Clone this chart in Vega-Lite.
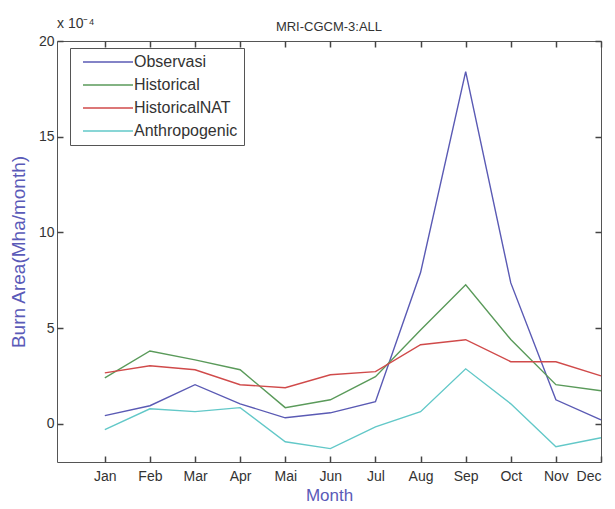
{
  "$schema": "https://vega.github.io/schema/vega-lite/v6.json",
  "width": 544,
  "height": 421,
  "autosize": {"type": "none"},
  "padding": {"left": 57, "top": 41, "right": 14, "bottom": 47},
  "background": "white",
  "config": {
    "font": "Liberation Sans",
    "view": {"stroke": "#555", "strokeWidth": 1},
    "axis": {"domain": false, "grid": false, "labelColor": "#333", "labelFontSize": 14}
  },
  "title": {"text": "MRI-CGCM-3:ALL", "fontSize": 13, "fontWeight": "normal", "color": "#333", "offset": 0, "dy": 17, "anchor": "middle"},
  "data": {"values": [
    {"month": 1, "series": "Observasi", "value": 0.42},
    {"month": 2, "series": "Observasi", "value": 0.94},
    {"month": 3, "series": "Observasi", "value": 2.04},
    {"month": 4, "series": "Observasi", "value": 1.04},
    {"month": 5, "series": "Observasi", "value": 0.31},
    {"month": 6, "series": "Observasi", "value": 0.57},
    {"month": 7, "series": "Observasi", "value": 1.15},
    {"month": 8, "series": "Observasi", "value": 7.9},
    {"month": 9, "series": "Observasi", "value": 18.4},
    {"month": 10, "series": "Observasi", "value": 7.36},
    {"month": 11, "series": "Observasi", "value": 1.25},
    {"month": 12, "series": "Observasi", "value": 0.2},
    {"month": 1, "series": "Historical", "value": 2.4},
    {"month": 2, "series": "Historical", "value": 3.8},
    {"month": 3, "series": "Historical", "value": 3.34},
    {"month": 4, "series": "Historical", "value": 2.82},
    {"month": 5, "series": "Historical", "value": 0.84},
    {"month": 6, "series": "Historical", "value": 1.25},
    {"month": 7, "series": "Historical", "value": 2.46},
    {"month": 8, "series": "Historical", "value": 4.9},
    {"month": 9, "series": "Historical", "value": 7.26},
    {"month": 10, "series": "Historical", "value": 4.4},
    {"month": 11, "series": "Historical", "value": 2.04},
    {"month": 12, "series": "Historical", "value": 1.72},
    {"month": 1, "series": "HistoricalNAT", "value": 2.66},
    {"month": 2, "series": "HistoricalNAT", "value": 3.03},
    {"month": 3, "series": "HistoricalNAT", "value": 2.82},
    {"month": 4, "series": "HistoricalNAT", "value": 2.04},
    {"month": 5, "series": "HistoricalNAT", "value": 1.88},
    {"month": 6, "series": "HistoricalNAT", "value": 2.56},
    {"month": 7, "series": "HistoricalNAT", "value": 2.72},
    {"month": 8, "series": "HistoricalNAT", "value": 4.13},
    {"month": 9, "series": "HistoricalNAT", "value": 4.39},
    {"month": 10, "series": "HistoricalNAT", "value": 3.24},
    {"month": 11, "series": "HistoricalNAT", "value": 3.24},
    {"month": 12, "series": "HistoricalNAT", "value": 2.5},
    {"month": 1, "series": "Anthropogenic", "value": -0.31},
    {"month": 2, "series": "Anthropogenic", "value": 0.78},
    {"month": 3, "series": "Anthropogenic", "value": 0.63},
    {"month": 4, "series": "Anthropogenic", "value": 0.84},
    {"month": 5, "series": "Anthropogenic", "value": -0.94},
    {"month": 6, "series": "Anthropogenic", "value": -1.3},
    {"month": 7, "series": "Anthropogenic", "value": -0.16},
    {"month": 8, "series": "Anthropogenic", "value": 0.63},
    {"month": 9, "series": "Anthropogenic", "value": 2.87},
    {"month": 10, "series": "Anthropogenic", "value": 1.04},
    {"month": 11, "series": "Anthropogenic", "value": -1.2},
    {"month": 12, "series": "Anthropogenic", "value": -0.73}
  ]},
  "layer": [
    {
      "mark": {"type": "line", "strokeWidth": 1.4},
      "encoding": {
        "x": {"field": "month", "type": "quantitative",
          "scale": {"domain": [-0.06, 12], "nice": false, "zero": false},
          "axis": {"orient": "bottom", "values": [1,2,3,4,5,6,7,8,9,10,11,12], "labelPadding": 7,
            "ticks": true, "tickSize": 6, "tickWidth": 1.5, "tickColor": "#444", "tickOpacity": 1, "offset": -6,
            "labelExpr": "['Jan','Feb','Mar','Apr','Mai','Jun','Jul','Aug','Sep','Oct','Nov','Dec'][datum.value-1]",
            "title": "Month", "titleColor": "#5a5ab8", "titleFontSize": 17, "titleFontWeight": "normal", "titlePadding": 4}},
        "y": {"field": "value", "type": "quantitative",
          "scale": {"domain": [-2, 20], "nice": false, "zero": false},
          "axis": {"orient": "left", "values": [0, 5, 10, 15, 20], "labelPadding": 3,
            "ticks": true, "tickSize": 6, "tickWidth": 1.5, "tickColor": "#444", "tickOpacity": 1, "offset": -6,
            "title": "Burn Area(Mha/month)", "titleColor": "#5a5ab8", "titleFontSize": 19, "titleFontWeight": "normal", "titlePadding": 10}},
        "color": {"field": "series", "type": "nominal",
          "scale": {"domain": ["Observasi", "Historical", "HistoricalNAT", "Anthropogenic"],
                    "range": ["#5a5ab4", "#5a9a5a", "#d04a4a", "#62c8c8"]},
          "legend": {"title": null, "orient": "none", "legendX": 13, "legendY": 7,
            "symbolType": "M-5,0H5", "symbolSize": 100, "symbolStrokeWidth": 1.4, "symbolOffset": 24,
            "labelFontSize": 16, "labelColor": "#333", "labelOffset": 18,
            "strokeColor": "#555", "fillColor": "white", "padding": 6, "rowPadding": 7}}
      }
    },
    {
      "mark": {"type": "text", "align": "left", "baseline": "middle", "dy": -17, "fontSize": 14, "color": "#333"},
      "data": {"values": [{"month": -0.06, "value": 20, "label": "x 10⁻⁴"}]},
      "encoding": {
        "x": {"field": "month", "type": "quantitative",
          "axis": {"orient": "top", "values": [1,2,3,4,5,6,7,8,9,10,11,12], "labels": false, "title": null,
            "ticks": true, "tickSize": 6, "tickWidth": 1.5, "tickColor": "#444", "tickOpacity": 1, "offset": -6}},
        "y": {"field": "value", "type": "quantitative",
          "axis": {"orient": "right", "values": [0, 5, 10, 15, 20], "labels": false, "title": null,
            "ticks": true, "tickSize": 6, "tickWidth": 1.5, "tickColor": "#444", "tickOpacity": 1, "offset": -6}},
        "text": {"field": "label"}
      }
    }
  ],
  "resolve": {"axis": {"x": "independent", "y": "independent"}}
}
